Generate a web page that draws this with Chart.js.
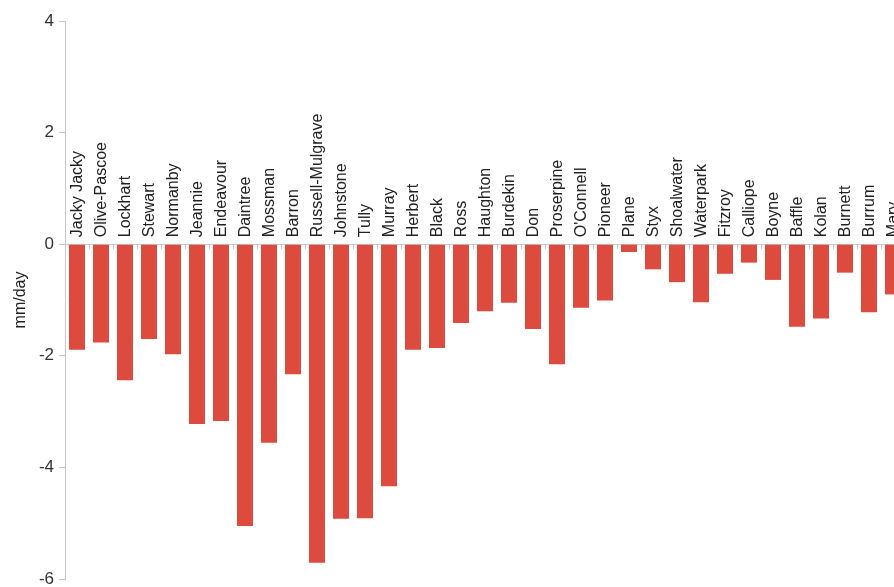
<!DOCTYPE html>
<html>
<head>
<meta charset="utf-8">
<script src="https://cdn.jsdelivr.net/npm/chart.js@4/dist/chart.umd.min.js"></script>
<style>
  html, body { margin: 0; padding: 0; background: #fff; overflow: hidden; width: 894px; height: 587px; }
  #wrap { position: absolute; left: 0; top: 0; width: 920px; height: 587px; }
</style>
</head>
<body>
<div id="wrap"><canvas id="c" width="920" height="587"></canvas></div>
<script>
const categories = ["Jacky Jacky","Olive-Pascoe","Lockhart","Stewart","Normanby","Jeannie","Endeavour","Daintree","Mossman","Barron","Russell-Mulgrave","Johnstone","Tully","Murray","Herbert","Black","Ross","Haughton","Burdekin","Don","Proserpine","O'Connell","Pioneer","Plane","Styx","Shoalwater","Waterpark","Fitzroy","Calliope","Boyne","Baffle","Kolan","Burnett","Burrum","Mary"];
const values = [-1.89,-1.76,-2.44,-1.70,-1.97,-3.22,-3.17,-5.05,-3.56,-2.33,-5.71,-4.92,-4.91,-4.34,-1.89,-1.86,-1.41,-1.20,-1.05,-1.52,-2.15,-1.14,-1.01,-0.14,-0.45,-0.68,-1.04,-0.53,-0.33,-0.64,-1.48,-1.33,-0.51,-1.22,-0.90];
const yTicks = [-6,-4,-2,0,2,4];
const yTitle = "mm/day";

const FONT = '"Liberation Sans", "Helvetica Neue", Arial, sans-serif';

const catLabels = {
  id: 'catLabels',
  afterDatasetsDraw(chart) {
    const ctx = chart.ctx, xs = chart.scales.x, ys = chart.scales.y;
    const y0 = ys.getPixelForValue(0);
    ctx.save();
    ctx.font = '16px ' + FONT;
    ctx.fillStyle = '#222';
    ctx.textAlign = 'left';
    ctx.textBaseline = 'middle';
    categories.forEach((c, i) => {
      const px = xs.getPixelForValue(i);
      ctx.save();
      ctx.translate(px + 1, y0 - 7);
      ctx.rotate(-Math.PI / 2);
      ctx.fillText(c, 0, 0);
      ctx.restore();
    });
    ctx.restore();
  }
};

new Chart(document.getElementById('c'), {
  type: 'bar',
  data: {
    labels: categories,
    datasets: [{
      data: values,
      backgroundColor: '#dc4b3e',
      borderWidth: 0,
      barPercentage: 0.667,
      categoryPercentage: 1.0
    }]
  },
  options: {
    responsive: false,
    animation: false,
    devicePixelRatio: 1,
    layout: { padding: { top: 21, bottom: 8, right: 15, left: 0 } },
    plugins: { legend: { display: false }, tooltip: { enabled: false } },
    scales: {
      x: {
        type: 'category',
        position: { y: 0 },
        offset: true,
        afterFit(s) { s.height = 0; },
        ticks: { display: false },
        grid: { display: true, drawOnChartArea: false, drawTicks: true, tickLength: 4, color: '#c8c8c8', tickColor: '#c8c8c8', offset: true },
        border: { display: true, color: '#c8c8c8', width: 1 }
      },
      y: {
        type: 'linear',
        position: 'left',
        min: -6,
        max: 4,
        afterBuildTicks(s) { s.ticks = yTicks.map(v => ({ value: v })); },
        afterFit(s) { s.width = 65; s.paddingTop = 0; s.paddingBottom = 0; },
        ticks: { font: { family: FONT, size: 17, lineHeight: 1 }, color: '#333', padding: 5 },
        grid: { display: true, drawOnChartArea: false, drawTicks: true, tickLength: 6, color: '#c8c8c8', tickColor: '#c8c8c8' },
        border: { display: true, color: '#c8c8c8', width: 1 },
        title: { display: true, text: yTitle, font: { family: FONT, size: 16 }, color: '#222', padding: { top: 11, bottom: 0 } }
      }
    }
  },
  plugins: [catLabels]
});
</script>
</body>
</html>
